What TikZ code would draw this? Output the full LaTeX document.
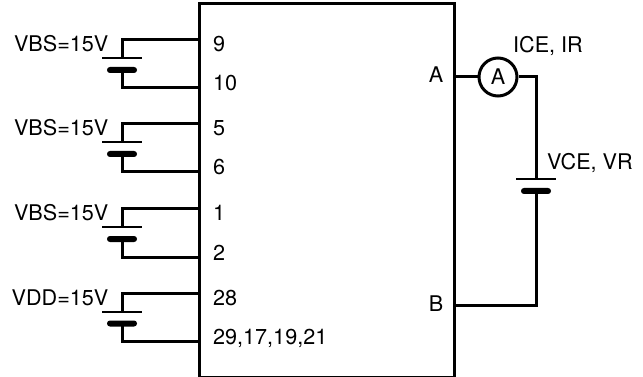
\documentclass[tikz,border=0pt]{standalone}
\usepackage{fontspec}
\setmainfont{TeX Gyre Heros}
\tikzset
 {wire/.style = {line width=3pt},                % leads between chip and cells
  pinlabel/.style = {font=\fontsize{21.6}{24}\selectfont, anchor=base west, inner sep=0pt},
  sidelabel/.style = {font=\fontsize{21.6}{24}\selectfont, anchor=base, inner sep=0pt},
  thinplate/.style = {fill=black, inner sep=0pt, minimum width=40pt, minimum height=2pt},
  thickplate/.style = {fill=black, inner sep=0pt, minimum width=30pt, minimum height=6pt, rounded corners=2.9pt},
  meter/.style = {circle, draw, line width=3pt, minimum size=38pt, inner sep=0pt, font=\fontsize{21.6}{24}\selectfont}
 }

\begin{document}
\begin{tikzpicture}[x=1pt,y=-1pt]
    \useasboundingbox (0,0) rectangle (643,377);
    % chip outline
    \node[draw, line width=3pt, inner sep=0pt, minimum width=255pt, minimum height=373pt] (chip) at (326.5,190.5) {};
    % four supplies on the left
    \foreach \i/\ytop/\ybot/\toptext/\bottext/\supply in
        {1/40/88/9/10/VBS=15V, 2/124/172/5/6/VBS=15V, 3/209/257/1/2/VBS=15V, 4/293.5/341.5/28/{29,17,19,21}/VDD=15V}
    {
        \coordinate (top\i) at (199,\ytop);
        \coordinate (bot\i) at (199,\ybot);
        \node[thinplate] (thin\i) at (122,\ytop+18) {};
        \node[thickplate] (thick\i) at (122,\ytop+30) {};
        \node[sidelabel, anchor=base east] (supply\i) at (108.5,\ytop+12) {\supply};
        \node[pinlabel] (toppin\i) at (213,\ytop+12) {\toptext};
        \node[pinlabel] (botpin\i) at (213,\ybot+3) {\bottext};
        \draw[wire] (top\i) -| (thin\i.center);
        \draw[wire] (thick\i.center) |- (bot\i);
    }
    % measuring loop on the right
    \coordinate (pinA) at (454,77);
    \coordinate (pinB) at (454,305);
    \node[meter] (meter) at (498,77) {A};
    \node[thinplate] (thinR) at (536,179) {};
    \node[thickplate] (thickR) at (536,191) {};
    \node[sidelabel] (labelA) at (436,83) {A};
    \node[sidelabel] (labelB) at (436,311) {B};
    \node[pinlabel] (labelI) at (513,53) {ICE, IR};
    \node[pinlabel] (labelV) at (547,170) {VCE, VR};
    \draw[wire] (pinA) -- (meter);
    \draw[wire] (meter) -| (thinR.center);
    \draw[wire] (thickR.center) |- (pinB);
\end{tikzpicture}
\end{document}
